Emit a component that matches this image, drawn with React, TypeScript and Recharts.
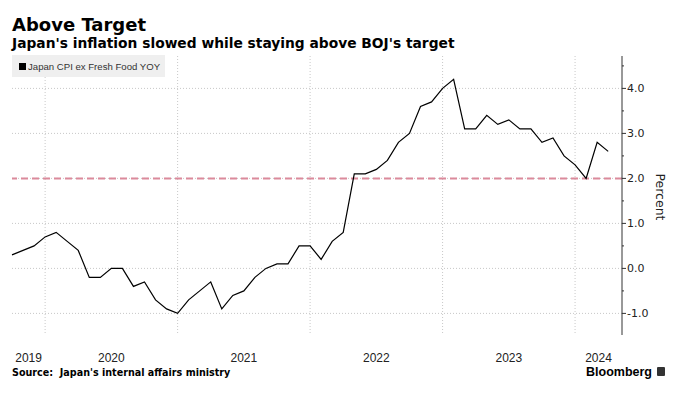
import React from 'react';
import { LineChart, Line, XAxis, YAxis, CartesianGrid, ReferenceLine } from 'recharts';

// monthly readings, Sep 2019 .. Mar 2024
const startMonth = 9;
const cpi = [
  0.3, 0.4, 0.5, 0.7,
  0.8, 0.6, 0.4, -0.2, -0.2, 0.0, 0.0, -0.4, -0.3, -0.7, -0.9, -1.0,
  -0.7, -0.5, -0.3, -0.9, -0.6, -0.5, -0.2, 0.0, 0.1, 0.1, 0.5, 0.5,
  0.2, 0.6, 0.8, 2.1, 2.1, 2.2, 2.4, 2.8, 3.0, 3.6, 3.7, 4.0,
  4.2, 3.1, 3.1, 3.4, 3.2, 3.3, 3.1, 3.1, 2.8, 2.9, 2.5, 2.3,
  2.0, 2.8, 2.6,
];
const years = ['2019', '2020', '2021', '2022', '2023', '2024'];
const yTicks = [-1, -0.5, 0, 0.5, 1, 1.5, 2, 2.5, 3, 3.5, 4, 4.5];
const yGrid = [-1, 0, 1, 2, 3, 4];
const boj = 2;

const data = cpi.map((v, i) => ({ i, v }));
const xMax = cpi.length - 1 + 1.25;

// index of each December = year boundary
const decIdx = years.slice(0, -1).map((_, k) => 12 - startMonth + k * 12);
const bounds = [0, ...decIdx, xMax];
const yearMid = years.map((_, k) => (bounds[k] + bounds[k + 1]) / 2);
const yearLabel: Record<string, string> = {};
yearMid.forEach((m, k) => (yearLabel[String(m)] = years[k]));

const YTick = (props: any) => {
  const { x, y, payload } = props;
  const major = Number.isInteger(payload.value);
  return (
    <g>
      <line x1={x} x2={x + (major ? 4 : 2)} y1={y} y2={y} stroke="#333" />
      {major && (
        <text x={x + 5} y={y + 4} fontSize={11} fontFamily="DejaVu Sans" fill="#222">
          {payload.value.toFixed(1)}
        </text>
      )}
    </g>
  );
};

const XTick = (props: any) => {
  const { x, y, payload } = props;
  return (
    <text x={x} y={y} textAnchor="middle" fontSize={12} fontFamily="Liberation Sans" fill="#222">
      {yearLabel[String(payload.value)]}
    </text>
  );
};

export default function App() {
  return (
    <div style={{ position: 'absolute', left: 0, top: 0, width: 687, height: 394, background: '#fff' }}>
      <div style={{ position: 'absolute', left: 12, top: 15, fontFamily: 'DejaVu Sans', fontWeight: 'bold', fontSize: 18, color: '#000', lineHeight: '20px' }}>
        Above Target
      </div>
      <div style={{ position: 'absolute', left: 12, top: 35, fontFamily: 'DejaVu Sans', fontWeight: 'bold', fontSize: 13.8, color: '#000', lineHeight: '16px', whiteSpace: 'nowrap' }}>
        Japan's inflation slowed while staying above BOJ's target
      </div>
      <LineChart width={687} height={394} data={data} margin={{ top: 56, right: 0, bottom: 24, left: 12 }}>
        <CartesianGrid
          stroke="#c8c8c8"
          strokeDasharray="1 2"
          horizontalValues={yGrid}
          verticalValues={decIdx}
        />
        <XAxis
          dataKey="i"
          type="number"
          domain={[0, xMax]}
          ticks={yearMid}
          axisLine={false}
          tickLine={false}
          tickSize={0}
          tickMargin={27}
          height={35}
          tick={<XTick />}
          interval={0}
        />
        <YAxis
          orientation="right"
          type="number"
          domain={[-1.48, 4.72]}
          ticks={yTicks}
          width={65}
          stroke="#333"
          tickLine={false}
          tickSize={0}
          tickMargin={0}
          tick={<YTick />}
          interval={0}
          allowDataOverflow
        />
        <ReferenceLine y={boj} stroke="#db8a9b" strokeWidth={2} strokeDasharray="7 4" />
        <Line
          dataKey="v"
          stroke="#000"
          strokeWidth={1.2}
          dot={false}
          isAnimationActive={false}
        />
      </LineChart>
      <div style={{ position: 'absolute', left: 12, top: 55, width: 153, height: 22, background: '#efefef', display: 'flex', alignItems: 'center', fontFamily: 'Liberation Sans', fontSize: 9.6, color: '#333', whiteSpace: 'nowrap', overflow: 'hidden' }}>
        <span style={{ display: 'inline-block', flexShrink: 0, width: 7, height: 7, background: '#000', marginLeft: 7, marginRight: 2 }} />
        <span>Japan CPI ex Fresh Food YOY</span>
      </div>
      <div style={{ position: 'absolute', left: 660, top: 197, transform: 'translate(-50%, -50%) rotate(90deg)', fontFamily: 'DejaVu Sans', fontSize: 12.5, color: '#222', whiteSpace: 'nowrap' }}>
        Percent
      </div>
      <div style={{ position: 'absolute', left: 12, top: 367, fontFamily: 'DejaVu Sans', fontWeight: 'bold', fontSize: 9.6, color: '#000', whiteSpace: 'nowrap', lineHeight: '12px' }}>
        Source:&nbsp; Japan's internal affairs ministry
      </div>
      <div style={{ position: 'absolute', left: 586, top: 366, fontFamily: 'Liberation Sans', fontWeight: 'bold', fontSize: 12.5, color: '#000', whiteSpace: 'nowrap', lineHeight: '13px' }}>
        Bloomberg
      </div>
      <div style={{ position: 'absolute', left: 657, top: 367, width: 8, height: 9, background: '#333', borderRadius: 1 }} />
    </div>
  );
}
